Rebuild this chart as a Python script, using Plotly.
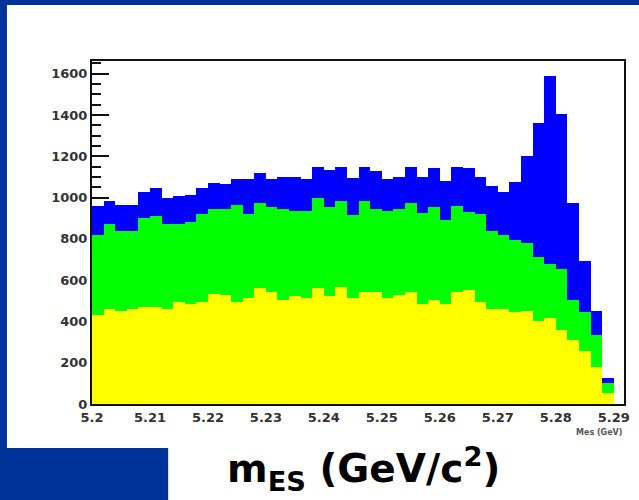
import plotly.graph_objects as go

# ---- data ----
bin_lo = 5.2
bin_width = 0.002
# counts per bin for each stacked component (bottom -> top)
yellow_counts = [430, 462, 450, 462, 470, 470, 462, 493, 485, 493, 535, 527, 493, 516, 564,
                 543, 506, 525, 516, 564, 525, 565, 516, 543, 543, 516, 527, 543, 486, 502,
                 486, 543, 554, 496, 462, 462, 445, 450, 401, 418, 358, 308, 256, 180, 55]
green_counts = [388, 408, 389, 377, 432, 443, 409, 378, 396, 430, 408, 416, 471, 407, 411,
                412, 438, 409, 418, 432, 430, 418, 399, 440, 400, 420, 416, 432, 440, 453,
                408, 417, 377, 426, 377, 356, 352, 328, 309, 262, 294, 198, 189, 156, 45]
blue_counts = [142, 115, 125, 125, 123, 136, 125, 136, 134, 126, 126, 121, 126, 167, 145,
               135, 154, 164, 156, 154, 178, 167, 178, 167, 187, 154, 158, 175, 175, 187,
               188, 190, 211, 179, 218, 210, 280, 425, 653, 911, 753, 469, 248, 116, 28]
x_ticks_start = 5.2
x_tick_step = 0.01
y_tick_step = 200
y_minor_step = 50

centers = [bin_lo + bin_width * (k + 0.5) for k in range(len(yellow_counts))]

# ---- layout geometry (pixels) ----
W, H = 639, 500
ML, MR, MT, MB = 92, 9, 61, 96
PW = W - ML - MR
PH = H - MT - MB


def px_x(p):
    return (p - ML) / PW


def px_y(p):
    return (H - MB - p) / PH


fig = go.Figure()
for vals, col in [(yellow_counts, "#ffff00"), (green_counts, "#00ff00"), (blue_counts, "#0000ff")]:
    fig.add_trace(go.Bar(x=centers, y=vals, width=bin_width, marker=dict(color=col, line=dict(width=0)),
                         showlegend=False, hoverinfo="skip"))

tick_font = dict(family="DejaVu Sans", size=13, color="#333333", weight="bold")

fig.update_layout(
    width=W, height=H,
    margin=dict(l=ML, r=MR, t=MT, b=MB, pad=0),
    paper_bgcolor="#003399",
    plot_bgcolor="white",
    barmode="stack",
    bargap=0,
    showlegend=False,
    xaxis=dict(range=[5.2, 5.2 + PW / 5862.0], tick0=x_ticks_start, dtick=x_tick_step,
               ticks="", showgrid=False, zeroline=False, showline=True, mirror=True,
               linecolor="#111111", linewidth=2, tickfont=tick_font, layer="below traces"),
    yaxis=dict(range=[0, 1662], tick0=0, dtick=y_tick_step, ticks="inside", ticklen=17,
               tickwidth=2, tickcolor="#111111",
               minor=dict(dtick=y_minor_step, ticks="inside", ticklen=9, tickwidth=2, tickcolor="#111111"),
               showgrid=False, zeroline=False, showline=True, mirror=True,
               linecolor="#111111", linewidth=2, tickfont=tick_font, layer="below traces"),
    shapes=[
        dict(type="rect", xref="paper", yref="paper", x0=px_x(6), x1=px_x(700), y0=px_y(448), y1=px_y(5),
             fillcolor="white", line=dict(width=0), layer="below"),
        dict(type="rect", xref="paper", yref="paper", x0=px_x(169), x1=px_x(700), y0=px_y(520), y1=px_y(440),
             fillcolor="white", line=dict(width=0), layer="below"),
    ],
    annotations=[
        dict(text="m<sub>ES</sub> (GeV/c<sup>2</sup>)", xref="paper", yref="paper",
             x=px_x(227), y=px_y(469), xanchor="left", yanchor="middle", showarrow=False,
             font=dict(family="DejaVu Sans", size=39, color="black", weight="bold")),
        dict(text="Mes (GeV)", xref="paper", yref="paper", x=px_x(630), y=px_y(432),
             xanchor="right", yanchor="middle", showarrow=False,
             font=dict(family="DejaVu Sans", size=8, color="#555555", weight="bold")),
    ],
)

fig.write_html("out.html")
